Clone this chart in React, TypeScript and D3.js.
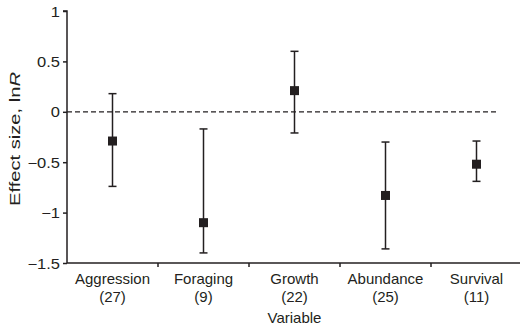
import { useEffect, useRef } from "react";
import * as d3 from "d3";

const VARIABLES = ["Aggression", "Foraging", "Growth", "Abundance", "Survival"];
const COUNTS = [27, 9, 22, 25, 11];
const MEANS = [-0.29, -1.1, 0.21, -0.83, -0.52];
const UPPER = [0.18, -0.17, 0.6, -0.3, -0.29];
const LOWER = [-0.74, -1.4, -0.21, -1.36, -0.69];
const Y_TICKS = [1, 0.5, 0, -0.5, -1, -1.5];

const INK = "#231f20";

export default function App() {
  const svgRef = useRef<SVGSVGElement>(null);

  useEffect(() => {
    const width = 520;
    const height = 330;
    const left = 67;
    const right = 522;
    const top = 11;
    const bottom = 263;

    const svg = d3.select(svgRef.current).attr("width", width).attr("height", height);
    svg.selectAll("*").remove();

    const x = d3.scaleBand().domain(VARIABLES).range([left, right]).padding(0);
    const y = d3.scaleLinear().domain([-1.5, 1]).range([bottom, top]);

    const font = "Arial, 'Liberation Sans', sans-serif";

    // y axis
    const yAxis = svg.append("g").attr("transform", `translate(${left},0)`)
      .call(d3.axisLeft(y).tickValues(Y_TICKS).tickSize(4).tickPadding(3)
        .tickFormat((d) => (d as number) < 0 ? "\u2212" + Math.abs(d as number) : String(d)));
    // labels in the source are a bit wide and short
    yAxis.selectAll(".tick text").attr("font-size", 15).attr("font-family", font).attr("fill", INK)
      .attr("x", -7 / 1.1).attr("dy", "0.36em").attr("transform", "scale(1.1,0.95)");
    yAxis.selectAll("line").attr("stroke", INK).attr("stroke-width", 1.5);
    yAxis.select(".domain").attr("stroke", INK).attr("stroke-width", 1.5).attr("d", `M-4,${top}H0V${bottom}`);

    // x axis: ticks at band boundaries
    const xg = svg.append("g");
    xg.append("line").attr("x1", left).attr("x2", width).attr("y1", bottom).attr("y2", bottom)
      .attr("stroke", INK).attr("stroke-width", 1.5);
    VARIABLES.slice(1).forEach((v) => {
      const bx = x(v)!;
      xg.append("line").attr("x1", bx).attr("x2", bx).attr("y1", bottom).attr("y2", bottom + 4)
        .attr("stroke", INK).attr("stroke-width", 1.5);
    });
    VARIABLES.forEach((v, i) => {
      const cx = x(v)! + x.bandwidth() / 2;
      const t = xg.append("text").attr("x", cx).attr("text-anchor", "middle")
        .attr("font-size", 15).attr("font-family", font).attr("fill", INK);
      t.append("tspan").attr("x", cx).attr("y", 284).text(v);
      t.append("tspan").attr("x", cx).attr("y", 302).text(`(${COUNTS[i]})`);
    });

    // axis titles
    svg.append("text").attr("x", x("Growth")! + x.bandwidth() / 2).attr("y", 323)
      .attr("text-anchor", "middle").attr("font-size", 15).attr("font-family", font).attr("fill", INK)
      .text("Variable");
    const yl = svg.append("text").attr("transform", `translate(20,139) rotate(-90)`)
      .attr("text-anchor", "middle").attr("font-size", 15).attr("font-family", font).attr("fill", INK)
      .attr("textLength", 134).attr("lengthAdjust", "spacingAndGlyphs");
    yl.append("tspan").text("Effect size, ln");
    yl.append("tspan").attr("font-style", "italic").text("R");

    // zero reference line
    svg.append("line").attr("x1", left).attr("x2", 497).attr("y1", y(0)).attr("y2", y(0))
      .attr("stroke", INK).attr("stroke-width", 1.3).attr("stroke-dasharray", "5,3");

    // error bars and means
    const g = svg.append("g");
    VARIABLES.forEach((v, i) => {
      const cx = x(v)! + x.bandwidth() / 2;
      g.append("line").attr("x1", cx).attr("x2", cx).attr("y1", y(UPPER[i])).attr("y2", y(LOWER[i]))
        .attr("stroke", INK).attr("stroke-width", 1.5);
      [UPPER[i], LOWER[i]].forEach((val) => {
        g.append("line").attr("x1", cx - 4).attr("x2", cx + 4).attr("y1", y(val)).attr("y2", y(val))
          .attr("stroke", INK).attr("stroke-width", 1.5);
      });
      g.append("rect").attr("x", cx - 4.5).attr("y", y(MEANS[i]) - 4.5).attr("width", 9).attr("height", 9)
        .attr("fill", INK);
    });
  }, []);

  return (
    <svg ref={svgRef} style={{ position: "absolute", left: 0, top: 0 }}></svg>
  );
}
